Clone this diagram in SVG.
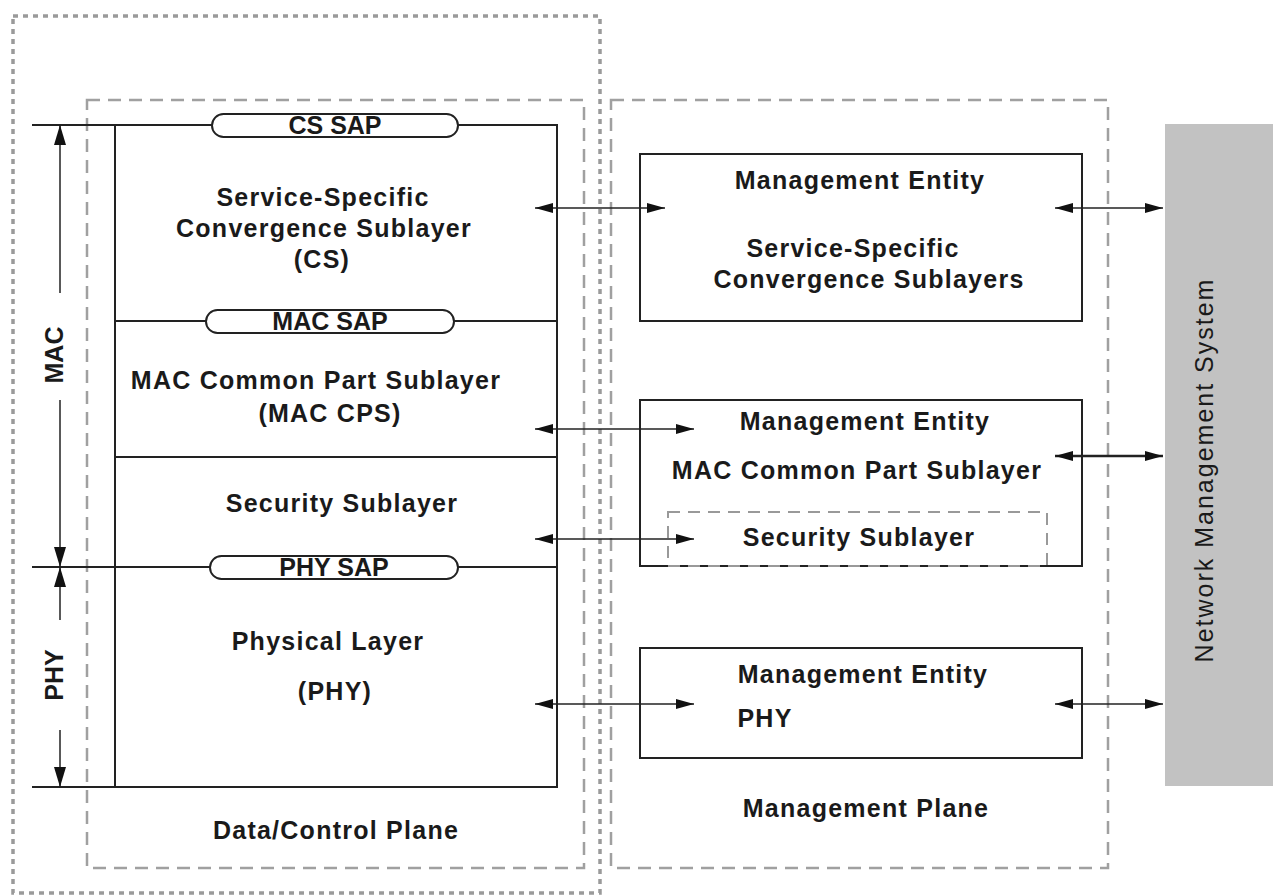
<svg xmlns="http://www.w3.org/2000/svg" width="1273" height="895" viewBox="0 0 1273 895">
<style>
.t{font-family:"Liberation Sans",Arial,sans-serif;font-weight:bold;font-size:25px;letter-spacing:1.25px;fill:#1a1a1a;text-anchor:middle}
.s{font-family:"Liberation Sans",Arial,sans-serif;font-weight:bold;font-size:25px;fill:#1a1a1a;text-anchor:middle}
.ln{stroke:#222;stroke-width:2;fill:none}
.bx{stroke:#222;stroke-width:2;fill:#fff}
.dot{stroke:#9a9a9a;stroke-width:3.5;fill:none;stroke-dasharray:5 5}
.dash{stroke:#a0a0a0;stroke-width:2.5;fill:none;stroke-dasharray:13 8}
.ar{stroke:#222;stroke-width:1.5;fill:none;marker-start:url(#ah);marker-end:url(#ah)}
</style>
<defs>
<marker id="ah" markerUnits="userSpaceOnUse" markerWidth="20" markerHeight="10" refX="18" refY="5" orient="auto-start-reverse">
<path d="M0,0 L18,5 L0,10 z" fill="#111"/>
</marker>
<marker id="av" markerUnits="userSpaceOnUse" markerWidth="20" markerHeight="12" refX="20" refY="6" orient="auto-start-reverse">
<path d="M0,0 L20,6 L0,12 z" fill="#111"/>
</marker>
</defs>
<rect width="1273" height="895" fill="#fff"/>

<g id="planes">
<rect class="dot" x="13" y="16" width="587" height="877"/>
<rect class="dash" x="87" y="100" width="497" height="768"/>
<rect class="dash" x="611" y="100" width="497" height="768"/>
</g>

<g id="data-plane">
<path class="ln" d="M32,125 H557 V787 H32 M115,125 V787 M115,321 H557 M115,457 H557 M32,567 H557"/>
<rect class="bx" x="212" y="114" width="246" height="23" rx="11.5"/>
<text class="s" x="335" y="134">CS SAP</text>
<rect class="bx" x="206" y="310" width="248" height="23" rx="11.5"/>
<text class="s" x="330" y="330">MAC SAP</text>
<rect class="bx" x="210" y="556" width="248" height="23" rx="11.5"/>
<text class="s" x="334" y="576">PHY SAP</text>
<text class="t" x="323" y="206">Service-Specific</text>
<text class="t" x="324" y="237">Convergence Sublayer</text>
<text class="t" x="322" y="268">(CS)</text>
<text class="t" x="316" y="389">MAC Common Part Sublayer</text>
<text class="t" x="330" y="422">(MAC CPS)</text>
<text class="t" x="342" y="512">Security Sublayer</text>
<text class="t" x="328" y="650">Physical Layer</text>
<text class="t" x="335" y="700">(PHY)</text>
<text class="t" x="336" y="839">Data/Control Plane</text>
</g>

<g id="layer-arrows">
<path d="M60,293 V125" style="stroke:#222;stroke-width:1.5;marker-end:url(#av)"/>
<path d="M60,400 V567" style="stroke:#222;stroke-width:1.5;marker-end:url(#av)"/>
<path d="M60,620 V567" style="stroke:#222;stroke-width:1.5;marker-end:url(#av)"/>
<path d="M60,730 V787" style="stroke:#222;stroke-width:1.5;marker-end:url(#av)"/>
<text class="s" transform="translate(63,355) rotate(-90)">MAC</text>
<text class="s" transform="translate(63,675) rotate(-90)">PHY</text>
</g>

<g id="me-cs">
<rect class="bx" x="640" y="154" width="442" height="167"/>
<text class="t" x="860" y="189">Management Entity</text>
<text class="t" x="853" y="257">Service-Specific</text>
<text class="t" x="869" y="288">Convergence Sublayers</text>
</g>

<g id="me-mac">
<rect class="bx" x="640" y="400" width="442" height="166"/>
<text class="t" x="865" y="430">Management Entity</text>
<text class="t" x="857" y="479">MAC Common Part Sublayer</text>
<rect x="668" y="512" width="379" height="54" style="fill:none;stroke:#999;stroke-width:2;stroke-dasharray:12 8"/>
<text class="t" x="859" y="546">Security Sublayer</text>
</g>

<g id="me-phy">
<rect class="bx" x="640" y="648" width="442" height="110"/>
<text class="t" x="863" y="683">Management Entity</text>
<text class="t" x="765" y="727">PHY</text>
</g>

<text class="t" x="866" y="817">Management Plane</text>

<g id="nms">
<rect x="1165" y="124" width="108" height="662" fill="#c2c2c2"/>
<text transform="translate(1213,470) rotate(-90)" style="font-family:'Liberation Sans',Arial,sans-serif;font-size:25px;letter-spacing:2px;fill:#1a1a1a;text-anchor:middle">Network Management System</text>
</g>

<g id="connectors">
<path class="ar" d="M535,208 H665"/>
<path class="ar" d="M535,429 H694"/>
<path class="ar" d="M535,539 H694"/>
<path class="ar" d="M535,704 H694"/>
<path class="ar" d="M1055,208 H1163"/>
<path class="ar" style="stroke-width:2.5" d="M1055,456 H1163"/>
<path class="ar" d="M1055,704 H1163"/>
</g>
</svg>
